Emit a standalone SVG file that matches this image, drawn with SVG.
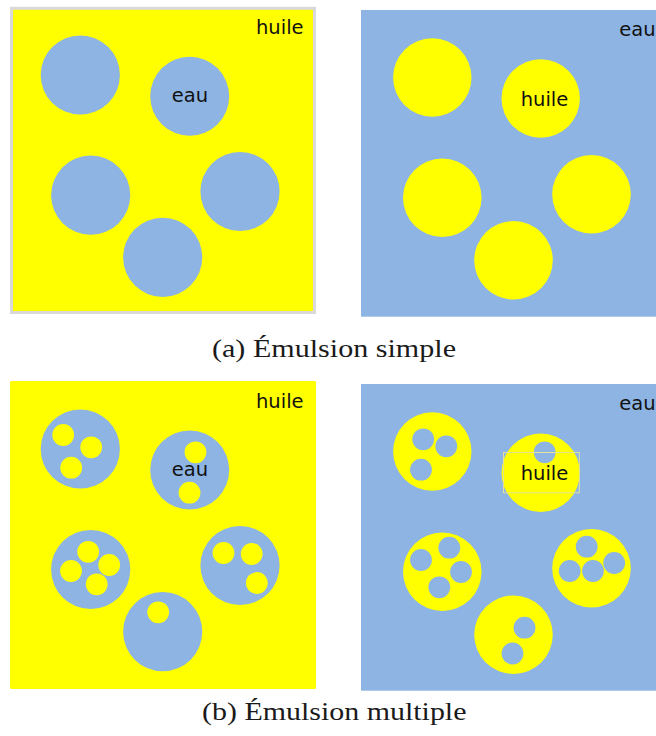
<svg xmlns="http://www.w3.org/2000/svg" width="656" height="736" viewBox="0 0 656 736">
<style>
.bg{fill:#ffffff}
.oil{fill:#ffff00}
.water{fill:#8eb4e3}
.lbl{font-family:"DejaVu Sans","Verdana",sans-serif;font-size:19.5px;fill:#111111}
.cap{font-family:"Liberation Serif","Times New Roman",serif;font-size:25px;fill:#1a1a1a}
.sel{fill:none;stroke:#e2e29a;stroke-width:1}
</style>
<rect class="bg" x="0" y="0" width="656" height="736"/>

<g id="panel-a-oil">
  <rect x="11.5" y="8.3" width="303" height="304.2" class="oil" stroke="#d9d9d9" stroke-width="3"/>
  <circle class="water" cx="80.3" cy="75" r="39.6"/>
  <circle class="water" cx="189.7" cy="96.3" r="39.5"/>
  <circle class="water" cx="90.7" cy="195.2" r="39.6"/>
  <circle class="water" cx="240" cy="191.5" r="39.6"/>
  <circle class="water" cx="162.7" cy="257.3" r="39.6"/>
  <text class="lbl" x="256" y="34">huile</text>
  <text class="lbl" x="171.7" y="101.7">eau</text>
</g>

<g id="panel-a-water">
  <rect x="361" y="10" width="295" height="306.7" class="water"/>
  <circle class="oil" cx="432.3" cy="77.5" r="39.2"/>
  <circle class="oil" cx="540.7" cy="98.5" r="39.2"/>
  <circle class="oil" cx="442.3" cy="197.7" r="39.3"/>
  <circle class="oil" cx="591.5" cy="194.2" r="39.3"/>
  <circle class="oil" cx="513.5" cy="260.3" r="39.3"/>
  <text class="lbl" x="619.3" y="35.7">eau</text>
  <text class="lbl" x="520.7" y="106">huile</text>
</g>

<g id="caption-a">
  <text class="cap" x="212" y="356.5" textLength="244" lengthAdjust="spacingAndGlyphs">(a) Émulsion simple</text>
</g>

<g id="panel-b-oil">
  <rect x="10" y="381" width="306" height="308" rx="1.5" class="oil"/>
  <circle class="water" cx="80.3" cy="449" r="39.6"/>
  <circle class="water" cx="189.7" cy="470" r="39.5"/>
  <circle class="water" cx="90.7" cy="569.5" r="39.6"/>
  <circle class="water" cx="240" cy="565.5" r="39.6"/>
  <circle class="water" cx="162.7" cy="631.7" r="39.6"/>
  <circle class="oil" cx="63.2" cy="435" r="10.9"/>
  <circle class="oil" cx="91.2" cy="447.3" r="10.9"/>
  <circle class="oil" cx="71.2" cy="467.7" r="10.9"/>
  <circle class="oil" cx="195.5" cy="452.3" r="10.9"/>
  <circle class="oil" cx="189.5" cy="492.7" r="10.9"/>
  <circle class="oil" cx="88.2" cy="551.8" r="10.9"/>
  <circle class="oil" cx="71" cy="571" r="10.9"/>
  <circle class="oil" cx="109.2" cy="565" r="10.9"/>
  <circle class="oil" cx="96.7" cy="584.3" r="10.9"/>
  <circle class="oil" cx="223.5" cy="553" r="10.9"/>
  <circle class="oil" cx="251.7" cy="554" r="10.9"/>
  <circle class="oil" cx="256.8" cy="583" r="10.9"/>
  <circle class="oil" cx="158.2" cy="612.3" r="10.9"/>
  <text class="lbl" x="256" y="408">huile</text>
  <text class="lbl" x="171.7" y="476">eau</text>
</g>

<g id="panel-b-water">
  <rect x="361" y="384" width="295" height="306.7" class="water"/>
  <circle class="oil" cx="432.3" cy="451.5" r="39.2"/>
  <circle class="oil" cx="540.7" cy="472.7" r="39.2"/>
  <circle class="oil" cx="442.3" cy="571.7" r="39.3"/>
  <circle class="oil" cx="591.5" cy="568.2" r="39.3"/>
  <circle class="oil" cx="513.5" cy="634.7" r="39.3"/>
  <circle class="water" cx="423.2" cy="439.3" r="10.9"/>
  <circle class="water" cx="446.3" cy="446.3" r="10.9"/>
  <circle class="water" cx="421" cy="469.7" r="10.9"/>
  <circle class="water" cx="544.7" cy="452.3" r="10.9"/>
  <circle class="water" cx="421" cy="560" r="10.9"/>
  <circle class="water" cx="449.3" cy="547.7" r="10.9"/>
  <circle class="water" cx="461" cy="572" r="10.9"/>
  <circle class="water" cx="439.3" cy="587.3" r="10.9"/>
  <circle class="water" cx="586.7" cy="546.7" r="10.9"/>
  <circle class="water" cx="569.7" cy="571" r="10.9"/>
  <circle class="water" cx="593" cy="571" r="10.9"/>
  <circle class="water" cx="614.2" cy="563" r="10.9"/>
  <circle class="water" cx="524.5" cy="627.7" r="10.9"/>
  <circle class="water" cx="512.5" cy="653.5" r="10.9"/>
  <rect class="sel" x="503.5" y="452.5" width="75.8" height="40.3"/>
  <text class="lbl" x="619.3" y="409.5">eau</text>
  <text class="lbl" x="520.7" y="479.5">huile</text>
</g>

<g id="caption-b">
  <text class="cap" x="202" y="720" textLength="264.5" lengthAdjust="spacingAndGlyphs">(b) Émulsion multiple</text>
</g>

<g id="connectors"/>
</svg>
